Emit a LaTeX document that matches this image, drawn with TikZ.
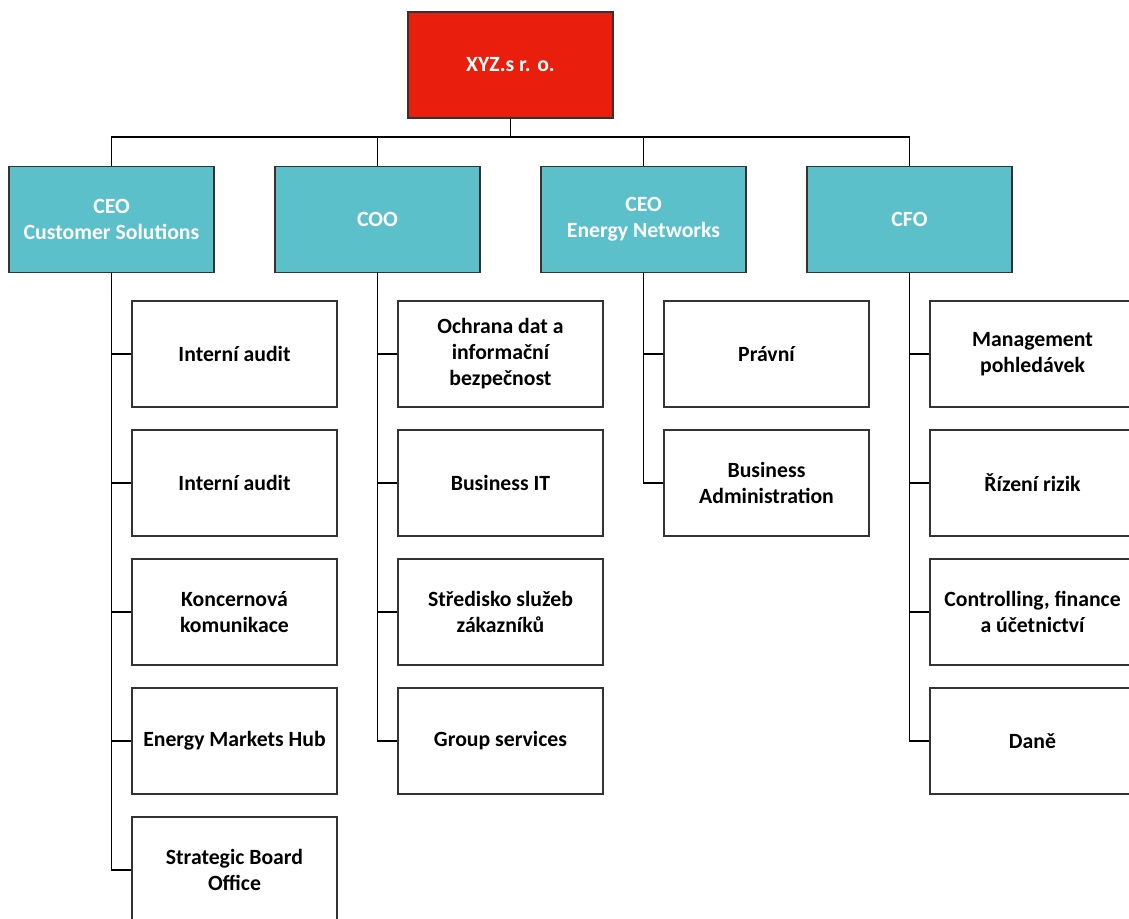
\documentclass[tikz,border=0pt]{standalone}
\usepackage{fontspec}
\setmainfont{Carlito}
\definecolor{topred}{HTML}{E91E0C}
\definecolor{teal}{HTML}{5CC0CB}
\definecolor{edge}{HTML}{333333}
\begin{document}
\begin{tikzpicture}[x=0.75pt,y=-0.75pt,
  box/.style={rectangle, draw=edge, line width=1.1pt, minimum width=153.75pt,
    minimum height=79.5pt, inner sep=0pt, align=center,
    font=\fontsize{16.3}{19.5}\selectfont\bfseries},
  rootbox/.style={box, fill=topred, text=white},
  headbox/.style={box, fill=teal, text=white},
  unitbox/.style={box, fill=white, text=black},
  link/.style={line width=1.1pt, black}]
\useasboundingbox (0,0) rectangle (1129,919);
\clip (0,0) rectangle (1129,919);
\fill[white] (0,0) rectangle (1129,919);

% top of the hierarchy
\node[rootbox] (root) at (510.5,65) {XYZ.s r. o.};

% management level
\node[headbox] (p1) at (111.5,219.5) {CEO\\Customer Solutions};
\node[headbox] (p2) at (377.5,219.5) {COO};
\node[headbox] (p3) at (643.5,219.5) {CEO\\Energy Networks};
\node[headbox] (p4) at (909.5,219.5) {CFO};

\coordinate (bus) at (510.5,137);
\draw[link] (root.south) -- (bus);
\foreach \p in {p1,p2,p3,p4} \draw[link] (bus) -| (\p.north);

% departments under CEO Customer Solutions
\node[unitbox] (a1) at (234.5,354) {Interní audit};
\node[unitbox] (a2) at (234.5,483) {Interní audit};
\node[unitbox] (a3) at (234.5,612) {Koncernová\\komunikace};
\node[unitbox] (a4) at (234.5,741) {Energy Markets Hub};
\node[unitbox] (a5) at (234.5,870) {Strategic Board\\Office};

% departments under COO
\node[unitbox] (b1) at (500.5,354) {Ochrana dat a\\informační\\bezpečnost};
\node[unitbox] (b2) at (500.5,483) {Business IT};
\node[unitbox] (b3) at (500.5,612) {Středisko služeb\\zákazníků};
\node[unitbox] (b4) at (500.5,741) {Group services};

% departments under CEO Energy Networks
\node[unitbox] (c1) at (766.5,354) {Právní};
\node[unitbox] (c2) at (766.5,483) {Business\\Administration};

% departments under CFO
\node[unitbox] (d1) at (1032.5,354) {Management\\pohledávek};
\node[unitbox] (d2) at (1032.5,483) {Řízení rizik};
\node[unitbox] (d3) at (1032.5,612) {Controlling, finance\\a účetnictví};
\node[unitbox] (d4) at (1032.5,741) {Daně};

\foreach \c in {a1,a2,a3,a4,a5} \draw[link] (p1.south) |- (\c.west);
\foreach \c in {b1,b2,b3,b4} \draw[link] (p2.south) |- (\c.west);
\foreach \c in {c1,c2} \draw[link] (p3.south) |- (\c.west);
\foreach \c in {d1,d2,d3,d4} \draw[link] (p4.south) |- (\c.west);
\end{tikzpicture}
\end{document}
